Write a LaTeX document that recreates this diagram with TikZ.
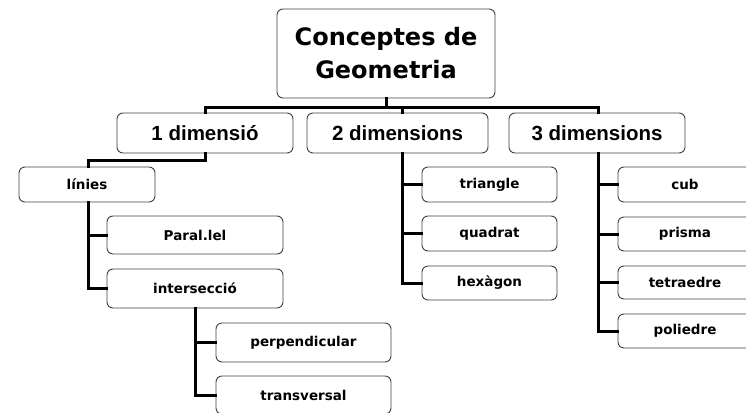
\documentclass[tikz,border=0pt]{standalone}
\usepackage{fontspec}
\setmainfont{DejaVu Sans}
\newfontfamily\comicf{DejaVu Sans}
\newfontfamily\arialf{Liberation Sans}
\begin{document}
\begin{tikzpicture}[x=1pt,y=-1pt,
  box/.style={draw=black!75,line width=0.9pt,rounded corners=6pt,fill=white,inner sep=0pt,align=center},
  rootbox/.style={box,font=\comicf\bfseries\fontsize{24}{33}\selectfont},
  lvlbox/.style={box,font=\arialf\bfseries\fontsize{20.5}{24}\selectfont},
  leafbox/.style={box,font=\comicf\bfseries\fontsize{13.5}{16}\selectfont},
  conn/.style={line width=3pt,black,line cap=rect}]
\useasboundingbox (0,0) rectangle (746,412);
% connectors first (behind boxes)
\coordinate (bar) at (0,107);
\coordinate (s2) at (402,0);
\coordinate (s3) at (598,0);
\coordinate (k1) at (0,160);
\coordinate (s1) at (88,0);
\coordinate (si) at (195,0);
% nodes
\node[rootbox,minimum width=218pt,minimum height=89pt] (root) at (386,53.5) {Conceptes de\\Geometria};
\node[lvlbox,minimum width=176pt,minimum height=40pt] (d1) at (205,133) {1 dimensió};
\node[lvlbox,minimum width=181pt,minimum height=40pt] (d2) at (397.5,133) {2 dimensions};
\node[lvlbox,minimum width=176pt,minimum height=40pt] (d3) at (597,133) {3 dimensions};
\node[leafbox,minimum width=136pt,minimum height=35pt] (lin) at (87,184.5) {línies};
\node[leafbox,minimum width=176pt,minimum height=38pt] (par) at (195,235) {Paral.lel};
\node[leafbox,minimum width=176pt,minimum height=39pt] (int) at (195,288.5) {intersecció};
\node[leafbox,minimum width=175pt,minimum height=39pt] (perp) at (303.5,342.5) {perpendicular};
\node[leafbox,minimum width=175pt,minimum height=38pt] (trans) at (303.5,395) {transversal};
\node[leafbox,minimum width=135pt,minimum height=35pt] (tri) at (489.5,184.5) {triangle};
\node[leafbox,minimum width=135pt,minimum height=35pt] (quad) at (489.5,233.5) {quadrat};
\node[leafbox,minimum width=135pt,minimum height=34pt] (hex) at (489.5,283) {hexàgon};
\node[leafbox,minimum width=134pt,minimum height=35pt] (cub) at (685,184.5) {cub};
\node[leafbox,minimum width=134pt,minimum height=34pt] (pri) at (685,234) {prisma};
\node[leafbox,minimum width=134pt,minimum height=33pt] (tet) at (685,282.5) {tetraedre};
\node[leafbox,minimum width=134pt,minimum height=34pt] (pol) at (685,331) {poliedre};
% connectors
\draw[conn] (root.south) -- (root.south |- bar);
\draw[conn] (d1.north) -- (d1.north |- bar) -- (s3 |- bar) -- (s3 |- d3.north);
\draw[conn] (s2 |- bar) -- (s2 |- d2.north);
\draw[conn] (d1.south) -- (d1.south |- k1) -- (s1 |- k1) -- (s1 |- lin.north);
\draw[conn] (s1 |- lin.south) |- (int.west);
\draw[conn] (s1 |- par.west) -- (par.west);
\draw[conn] (si |- int.south) |- (trans.west);
\draw[conn] (si |- perp.west) -- (perp.west);
\draw[conn] (s2 |- d2.south) |- (hex.west);
\draw[conn] (s2 |- tri.west) -- (tri.west);
\draw[conn] (s2 |- quad.west) -- (quad.west);
\draw[conn] (s3 |- d3.south) |- (pol.west);
\draw[conn] (s3 |- cub.west) -- (cub.west);
\draw[conn] (s3 |- pri.west) -- (pri.west);
\draw[conn] (s3 |- tet.west) -- (tet.west);
\end{tikzpicture}
\end{document}
